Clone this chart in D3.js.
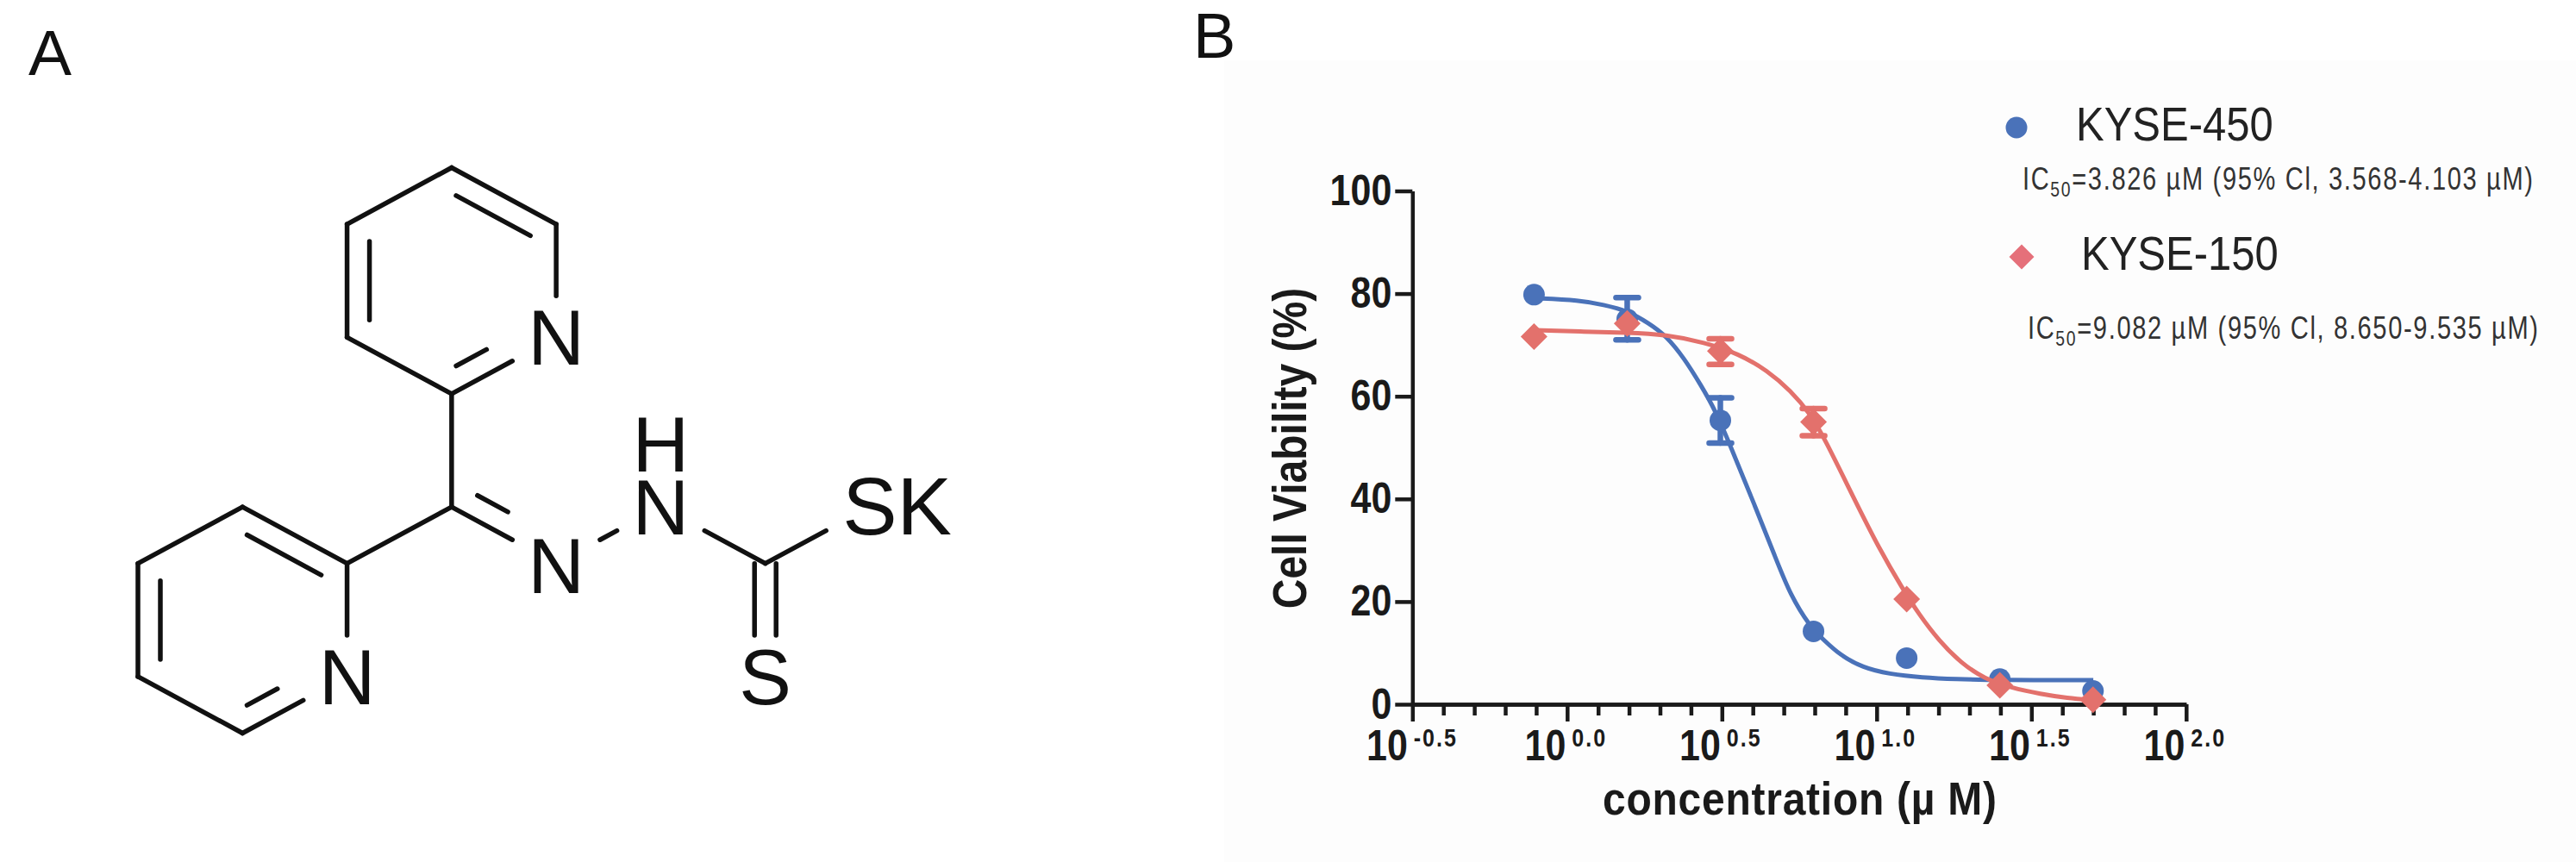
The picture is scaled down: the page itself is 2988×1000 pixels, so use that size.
<!DOCTYPE html>
<html>
<head>
<meta charset="utf-8">
<script src="https://cdn.jsdelivr.net/npm/d3@7"></script>
<style>
  html, body { margin: 0; padding: 0; background: #fff; }
  text { font-family: "Liberation Sans", Arial, sans-serif; }
</style>
</head>
<body>
<script>
// panel B data, x is log10 of the concentration in uM
var doseLog = [-0.107, 0.194, 0.495, 0.796, 1.097, 1.398, 1.699];
var blueValues = [79.8, 75.0, 55.3, 14.2, 9.0, 4.9, 2.6];
var redValues = [71.6, 74.2, 68.8, 55.0, 20.5, 3.7, 0.9];
var blueLow = [null, 71.0, 50.9, null, null, null, null];
var blueHigh = [null, 79.2, 59.7, null, null, null, null];
var redLow = [null, null, 66.2, 52.3, null, null, null];
var redHigh = [null, null, 71.2, 57.6, null, null, null];

// fitted curves
var blueCurveX = [-0.107, 0.042, 0.118, 0.193, 0.265, 0.321, 0.377, 0.432, 0.48, 0.527, 0.599, 0.675, 0.721, 0.785, 0.828, 0.881, 0.956, 1.039, 1.148, 1.254, 1.393, 1.7];
var blueCurveY = [79.1, 78.7, 77.8, 76.7, 74.2, 71.7, 67.5, 62.2, 57.1, 50.4, 39.8, 28.3, 21.3, 15.1, 12.6, 9.6, 7.1, 5.9, 5.2, 4.9, 4.7, 4.7];
var redCurveX = [-0.107, 0.042, 0.193, 0.321, 0.443, 0.554, 0.647, 0.722, 0.786, 0.833, 0.925, 1.009, 1.084, 1.137, 1.201, 1.275, 1.348, 1.435, 1.53, 1.616, 1.7];
var redCurveY = [72.9, 72.6, 72.4, 72.0, 70.5, 68.3, 65.0, 61.1, 56.6, 51.6, 40.3, 30.2, 22.5, 17.5, 12.4, 7.9, 5.0, 3.2, 2.0, 1.2, 0.8];

var xMajor = [-0.5, 0, 0.5, 1, 1.5, 2];
var xMinor = [-0.4, -0.3, -0.2, -0.1, 0.1, 0.2, 0.3, 0.4, 0.6, 0.7, 0.8, 0.9, 1.1, 1.2, 1.3, 1.4, 1.6, 1.7, 1.8, 1.9];
var xMajorLabels = ['-0.5', '0.0', '0.5', '1.0', '1.5', '2.0'];
var yTicks = [0, 20, 40, 60, 80, 100];

var legendNames = ['KYSE-450', 'KYSE-150'];
var legendStats = ['=3.826 \u00b5M (95% Cl, 3.568-4.103 \u00b5M)', '=9.082 \u00b5M (95% Cl, 8.650-9.535 \u00b5M)'];

// panel A structure on a hexagon lattice
var atoms = {
  a: [6, 0], b: [8, 1], n1: [8, 3], c: [6, 4], d: [4, 3], e: [4, 1],
  f: [6, 6], g: [4, 7], n2: [4, 9], h: [2, 10], i: [0, 9], j: [0, 7], k: [2, 6],
  n3: [8, 7], n4: [10, 6], m: [12, 7], s1: [12, 9], s2: [14, 6]
};
var heteroAtoms = ['n1', 'n2', 'n3', 'n4', 's1', 's2'];
var singleBonds = [['a', 'e'], ['b', 'n1'], ['c', 'd'], ['c', 'f'], ['f', 'g'], ['g', 'n2'], ['h', 'i'], ['j', 'k'], ['n3', 'n4'], ['n4', 'm'], ['m', 's2']];
// pair of atoms, then the point the second line sits towards
var doubleBonds = [
  ['a', 'b', [6, 2]], ['d', 'e', [6, 2]], ['c', 'n1', [6, 2]],
  ['g', 'k', [2, 8]], ['i', 'j', [2, 8]], ['h', 'n2', [2, 8]],
  ['f', 'n3', [9, 4]]
];
var atomLabels = [
  { at: [8, 3], text: 'N' }, { at: [4, 9], text: 'N' }, { at: [8, 7.03], text: 'N' },
  { at: [10, 6], text: 'N' }, { at: [10, 4.88], text: 'H' }, { at: [12, 9], text: 'S' },
  { at: [14.52, 6], text: 'SK' }
];

var W = 2988, H = 1000;
var svg = d3.select('body').append('svg').attr('width', W).attr('height', H);

var ink = '#1a1a1a';
var blue = '#4a72b9';
var red = '#e3716c';

// panel B sits on a very slightly grey ground
svg.append('rect').attr('x', 1420).attr('y', 70).attr('width', W - 1420).attr('height', H - 70).attr('fill', '#fdfdfd');

svg.append('text').attr('x', 33).attr('y', 87).attr('font-size', 75).attr('fill', '#111').text('A');
svg.append('text').attr('x', 1384).attr('y', 67).attr('font-size', 74).attr('fill', '#111').text('B');

// ---- panel A
var lx = d3.scaleLinear().domain([0, 14]).range([160, 1009]);
var ly = d3.scaleLinear().domain([0, 10]).range([194.5, 850.5]);
var mol = svg.append('g').attr('stroke', '#111').attr('stroke-width', 5.5).attr('stroke-linecap', 'round');

function trimAt(dx, dy) {
  // how far a bond stops short of a label, in its direction
  return 1 / Math.sqrt(Math.pow(dx / 62, 2) + Math.pow(dy / 48, 2));
}
function bondEnds(p, q) {
  var x1 = lx(atoms[p][0]), y1 = ly(atoms[p][1]), x2 = lx(atoms[q][0]), y2 = ly(atoms[q][1]);
  var len = Math.hypot(x2 - x1, y2 - y1), ux = (x2 - x1) / len, uy = (y2 - y1) / len;
  var t1 = heteroAtoms.indexOf(p) >= 0 ? trimAt(ux, uy) : 0;
  var t2 = heteroAtoms.indexOf(q) >= 0 ? trimAt(ux, uy) : 0;
  return { x1: x1 + ux * t1, y1: y1 + uy * t1, x2: x2 - ux * t2, y2: y2 - uy * t2, ux: ux, uy: uy };
}
function drawBond(e) {
  mol.append('line').attr('x1', e.x1).attr('y1', e.y1).attr('x2', e.x2).attr('y2', e.y2);
}
singleBonds.forEach(function (b) { drawBond(bondEnds(b[0], b[1])); });
doubleBonds.forEach(function (b) {
  var e = bondEnds(b[0], b[1]);
  drawBond(e);
  var nx = -e.uy, ny = e.ux;
  var side = (lx(b[2][0]) - e.x1) * nx + (ly(b[2][1]) - e.y1) * ny > 0 ? 1 : -1;
  var off = 26 * side, cut = 20;
  drawBond({
    x1: e.x1 + nx * off + e.ux * cut, y1: e.y1 + ny * off + e.uy * cut,
    x2: e.x2 + nx * off - e.ux * cut, y2: e.y2 + ny * off - e.uy * cut
  });
});
// the C=S bond sits either side of the axis
[-12.5, 12.5].forEach(function (off) {
  var e = bondEnds('m', 's1');
  drawBond({ x1: e.x1 + off, y1: e.y1, x2: e.x2 + off, y2: e.y2 });
});
svg.append('g').selectAll('text').data(atomLabels).enter().append('text')
  .attr('x', function (d) { return lx(d.at[0]); })
  .attr('y', function (d) { return ly(d.at[1]) + 32; })
  .attr('text-anchor', 'middle')
  .attr('font-size', function (d) { return d.text === 'SK' ? 95 : 91; })
  .attr('fill', '#111')
  .text(function (d) { return d.text; });

// ---- panel B
var x = d3.scaleLinear().domain([-0.5, 2]).range([1638.3, 2535.8]);
var y = d3.scaleLinear().domain([0, 100]).range([817, 221.5]);

var xAxisMinor = d3.axisBottom(x).tickValues(xMinor).tickSize(13).tickSizeOuter(0).tickFormat('');
var xAxisMajor = d3.axisBottom(x).tickValues(xMajor).tickSize(20).tickSizeOuter(0).tickFormat('');
var yAxis = d3.axisLeft(y).tickValues(yTicks).tickSize(20).tickSizeOuter(0);

var gxMinor = svg.append('g').attr('transform', 'translate(0,' + y(0) + ')').call(xAxisMinor);
var gx = svg.append('g').attr('transform', 'translate(0,' + y(0) + ')').call(xAxisMajor);
var gy = svg.append('g').attr('transform', 'translate(' + x(-0.5) + ',0)').call(yAxis);

[gxMinor, gx, gy].forEach(function (g) {
  g.selectAll('path,line').attr('stroke', ink).attr('stroke-width', 4.5);
});
// tick digits in the reference are taller than they are wide
gy.selectAll('text')
  .attr('x', null).attr('dy', null)
  .attr('transform', 'translate(-24,16) scale(1,1.18)')
  .attr('font-size', 43)
  .attr('font-weight', 'bold')
  .attr('fill', ink);

// x labels: 10 with the exponent set up next to it
gx.selectAll('.tick').each(function (d, i) {
  var t = d3.select(this);
  var shift = d < 0 ? -4 : 0;
  t.select('text').remove();
  t.append('text')
    .attr('transform', 'translate(' + (-2 + shift) + ',65) scale(1,1.18)')
    .attr('text-anchor', 'end')
    .attr('font-size', 43).attr('font-weight', 'bold').attr('fill', ink)
    .text('10');
  t.append('text')
    .attr('transform', 'translate(' + (5 + shift) + ',49) scale(1,1.18)')
    .attr('text-anchor', 'start')
    .attr('font-size', 25).attr('font-weight', 'bold').attr('fill', ink)
    .attr('letter-spacing', 2)
    .text(xMajorLabels[i]);
});

svg.append('text')
  .attr('transform', 'translate(1515,520) rotate(-90) scale(1,1.15)')
  .attr('text-anchor', 'middle')
  .attr('font-size', 48).attr('font-weight', 'bold').attr('fill', ink)
  .text('Cell Viability (%)');

svg.append('text')
  .attr('transform', 'translate(1859,945) scale(1,1.12)')
  .attr('font-size', 48).attr('font-weight', 'bold').attr('fill', ink)
  .attr('textLength', 457)
  .text('concentration (\u00b5 M)');

var line = d3.line()
  .x(function (d) { return x(d[0]); })
  .y(function (d) { return y(d[1]); })
  .curve(d3.curveBasis);

function drawSeries(values, low, high, curveX, curveY, color, symbol, size) {
  var g = svg.append('g');
  g.append('path')
    .attr('d', line(d3.zip(curveX, curveY)))
    .attr('fill', 'none').attr('stroke', color).attr('stroke-width', 5);
  doseLog.forEach(function (d, i) {
    if (low[i] === null) return;
    var eb = g.append('g').attr('stroke', color).attr('stroke-width', 6.5).attr('stroke-linecap', 'round');
    eb.append('line').attr('x1', x(d)).attr('x2', x(d)).attr('y1', y(low[i])).attr('y2', y(high[i]));
    [low[i], high[i]].forEach(function (v) {
      eb.append('line').attr('x1', x(d) - 13).attr('x2', x(d) + 13).attr('y1', y(v)).attr('y2', y(v));
    });
  });
  g.selectAll('path.pt').data(values).enter().append('path')
    .attr('class', 'pt')
    .attr('d', d3.symbol().type(symbol).size(size))
    .attr('transform', function (d, i) { return 'translate(' + x(doseLog[i]) + ',' + y(d) + ')'; })
    .attr('fill', color);
}
var diamond = { draw: function (ctx, size) {
  var r = Math.sqrt(size / 2);
  ctx.moveTo(0, -r); ctx.lineTo(r, 0); ctx.lineTo(0, r); ctx.lineTo(-r, 0); ctx.closePath();
} };
drawSeries(blueValues, blueLow, blueHigh, blueCurveX, blueCurveY, blue, d3.symbolCircle, Math.PI * 12.5 * 12.5);
drawSeries(redValues, redLow, redHigh, redCurveX, redCurveY, red, diamond, 2 * 15.5 * 15.5);

// ---- legend
svg.append('path').attr('d', d3.symbol().type(d3.symbolCircle).size(Math.PI * 12.5 * 12.5)())
  .attr('transform', 'translate(2339,148)').attr('fill', blue);
svg.append('path').attr('d', d3.symbol().type(diamond).size(2 * 14.5 * 14.5)())
  .attr('transform', 'translate(2345,298)').attr('fill', '#e5707a');

var legendNameX = [2408, 2414], legendNameY = [163, 313];
legendNames.forEach(function (n, i) {
  svg.append('text')
    .attr('transform', 'translate(' + legendNameX[i] + ',' + legendNameY[i] + ') scale(1,1.12)')
    .attr('font-size', 49).attr('fill', '#222').text(n);
});
var statX = [2346, 2352], statY = [220, 393];
legendStats.forEach(function (s, i) {
  var t = svg.append('text')
    .attr('transform', 'translate(' + statX[i] + ',' + statY[i] + ') scale(0.88,1.12)')
    .attr('font-size', 33).attr('fill', '#333')
    .attr('textLength', 592 / 0.88);
  t.append('tspan').text('IC');
  t.append('tspan').attr('font-size', 22).attr('dy', 7).text('50');
  t.append('tspan').attr('dy', -7).text(s);
});
</script>
</body>
</html>
